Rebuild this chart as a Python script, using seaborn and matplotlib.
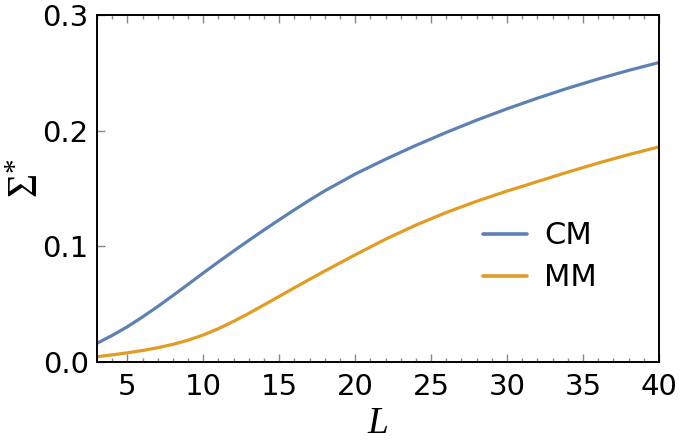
import numpy as np
import pandas as pd
import matplotlib
matplotlib.use("Agg")
import matplotlib.pyplot as plt
import seaborn as sns
from matplotlib.ticker import MultipleLocator

L_vals = [3, 4, 5, 6, 7, 8, 9, 10, 11, 12, 13, 14, 15, 16, 17, 18, 20, 22, 24, 26, 28, 30, 32, 34, 36, 38, 40]
cm_vals = [0.0162, 0.0230, 0.0305, 0.0390, 0.0480, 0.0575, 0.0672, 0.0770, 0.0866, 0.0960, 0.1052,
           0.1142, 0.1230, 0.1316, 0.1400, 0.1480, 0.1625, 0.1753, 0.1873, 0.1985, 0.2091, 0.2189,
           0.2281, 0.2367, 0.2447, 0.2521, 0.2589]
mm_vals = [0.0046, 0.0062, 0.0080, 0.0100, 0.0124, 0.0153, 0.0189, 0.0234, 0.0289, 0.0352, 0.0421,
           0.0494, 0.0568, 0.0642, 0.0715, 0.0787, 0.0927, 0.1062, 0.1184, 0.1293, 0.1390, 0.1478,
           0.1560, 0.1642, 0.1720, 0.1793, 0.1860]
series_names = ["CM", "MM"]
colors = ["#5e81b5", "#e19c24"]
x_ticks = [5, 10, 15, 20, 25, 30, 35, 40]
y_ticks = [0.0, 0.1, 0.2, 0.3]
y_tick_labels = ["0.0", "0.1", "0.2", "0.3"]

df = pd.DataFrame({
    "L": L_vals + L_vals,
    "val": cm_vals + mm_vals,
    "model": [series_names[0]] * len(L_vals) + [series_names[1]] * len(L_vals),
})

sns.set_theme(style="ticks")
plt.rcParams["font.family"] = ["DejaVu Sans"]
plt.rcParams["mathtext.fontset"] = "custom"
plt.rcParams["mathtext.rm"] = "Liberation Serif"
plt.rcParams["mathtext.it"] = "Liberation Serif:italic"
plt.rcParams["text.color"] = "black"
plt.rcParams["axes.labelcolor"] = "black"

fig = plt.figure(figsize=(6.8, 4.41), dpi=100)
ax = fig.add_axes([0.1426, 0.179, 0.8264, 0.787])

sns.lineplot(data=df, x="L", y="val", hue="model", palette=colors, ax=ax, linewidth=2.3, legend=True)

ax.set_xlim(3, 40)
ax.set_ylim(0, 0.3)
ax.set_xticks(x_ticks)
ax.set_yticks(y_ticks)
ax.set_yticklabels(y_tick_labels)
ax.xaxis.set_minor_locator(MultipleLocator(1))

for s in ax.spines.values():
    s.set_color("black")
    s.set_linewidth(1.4)

ax.tick_params(axis="x", which="major", direction="in", length=6, width=1, color="#888888",
               top=True, bottom=True, labelsize=21, pad=8, labelcolor="black")
ax.tick_params(axis="x", which="minor", direction="in", length=3, width=1, color="#888888",
               top=True, bottom=True)
ax.tick_params(axis="y", which="major", direction="in", length=6, width=1, color="#888888",
               left=True, right=False, labelsize=21, pad=6, labelcolor="black")

ax.set_xlabel("$L$", fontsize=27)
ax.xaxis.set_label_coords(0.5, -0.125)
ax.set_ylabel(r"$\Sigma^{*}$", fontsize=30, va="center")
ax.yaxis.set_label_coords(-0.126, 0.53)

leg = ax.legend(frameon=False, fontsize=22, handlelength=1.45, handletextpad=0.55,
                loc="center left", bbox_to_anchor=(0.687, 0.303), labelspacing=0.42,
                borderpad=0, borderaxespad=0)
for line in leg.get_lines():
    line.set_linewidth(2.6)

fig.savefig("out.png", dpi=100)
